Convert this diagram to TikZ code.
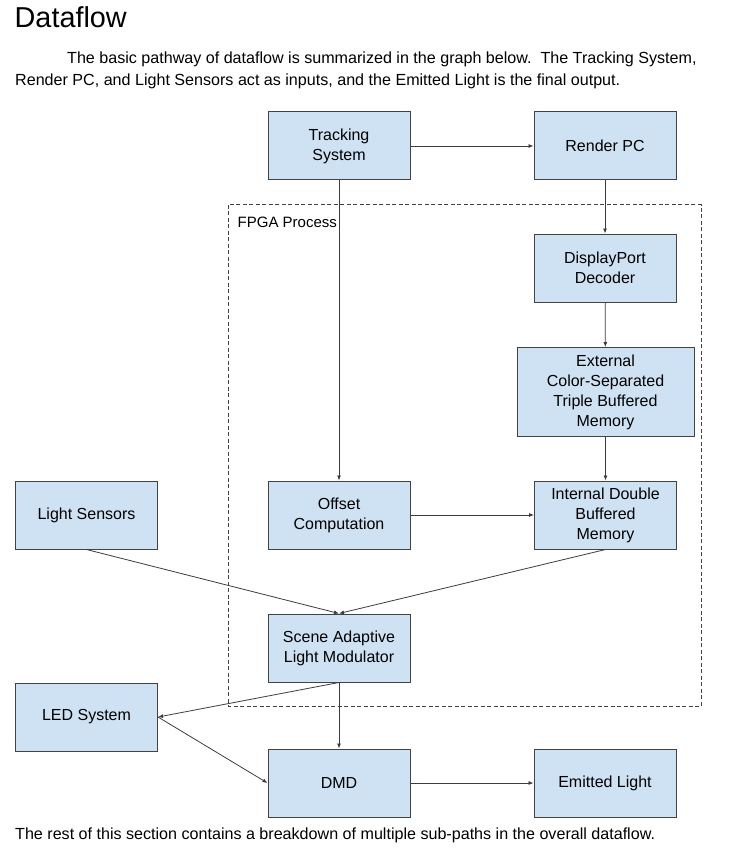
\documentclass[tikz,border=0pt]{standalone}
\usepackage{fontspec}
\setmainfont{Liberation Sans}
\usetikzlibrary{arrows.meta}
\definecolor{boxfill}{RGB}{207,226,243}
\definecolor{boxline}{RGB}{67,67,67}
\definecolor{lineclr}{RGB}{60,60,60}
\tikzset{
  blk/.style={draw=boxline, fill=boxfill, line width=1pt, minimum width=142pt, minimum height=68pt,
    align=center, inner sep=0pt, font=\fontsize{16}{20}\selectfont},
  conn/.style={draw=lineclr, line width=0.8pt, -{Latex[length=5pt,width=4pt]}},
  txt/.style={inner sep=0pt, anchor=base west, font=\fontsize{16.1}{22}\selectfont}
}
\begin{document}
\begin{tikzpicture}[x=1pt,y=-1pt]
\useasboundingbox[fill=white] (0,0) rectangle (737,853);
% headings and text
\node[inner sep=0pt, anchor=base west, font=\fontsize{28.8}{34}\selectfont] (title) at (14.5,28) {Dataflow};
\node[txt] (p1) at (67,64) {The basic pathway of dataflow is summarized in the graph below.\ \ The Tracking System,};
\node[txt] (p2) at (15,86) {Render PC, and Light Sensors act as inputs, and the Emitted Light is the final output.};
\node[txt] (p3) at (15,839) {The rest of this section contains a breakdown of multiple sub-paths in the overall dataflow.};
% FPGA region
\draw[boxline, line width=0.8pt, dash pattern=on 4pt off 2.5pt] (228,204.5) rectangle (701,706);
\node[inner sep=0pt, anchor=base west, font=\fontsize{15}{18}\selectfont] (fpga) at (237.5,227.3) {FPGA Process};
% boxes
\node[blk] (track) at (339,146) {Tracking\\System};
\node[blk] (render) at (605,146) {Render PC};
\node[blk] (dp) at (605,268) {DisplayPort\\Decoder};
\node[blk, minimum width=177pt, minimum height=89pt] (ext) at (605.5,392) {External\\Color-Separated\\Triple Buffered\\Memory};
\node[blk] (internal) at (605.5,515) {Internal Double\\Buffered\\Memory};
\node[blk] (offset) at (339,515) {Offset\\Computation};
\node[blk] (sensors) at (86.5,515) {Light Sensors};
\node[blk] (scene) at (339,648) {Scene Adaptive\\Light Modulator};
\node[blk] (led) at (86.5,717) {LED System};
\node[blk] (dmd) at (339,783) {DMD};
\node[blk] (emit) at (605,783) {Emitted Light};
% connectors
\draw[conn] (track) -- (render);
\draw[conn] (track.south) -- (offset.north);
\draw[conn] (render) -- (dp);
\draw[conn] (dp) -- (ext);
\draw[conn] (ext) -- (internal);
\draw[conn] (offset) -- (internal);
\draw[conn] (sensors.south) -- (scene.north);
\draw[conn] (internal.south) -- (scene.north);
\draw[conn] (scene.south) -- (led.east);
\draw[conn] (scene.south) -- (dmd.north);
\draw[conn] (led.east) -- (dmd.west);
\draw[conn] (dmd) -- (emit);
\end{tikzpicture}
\end{document}
